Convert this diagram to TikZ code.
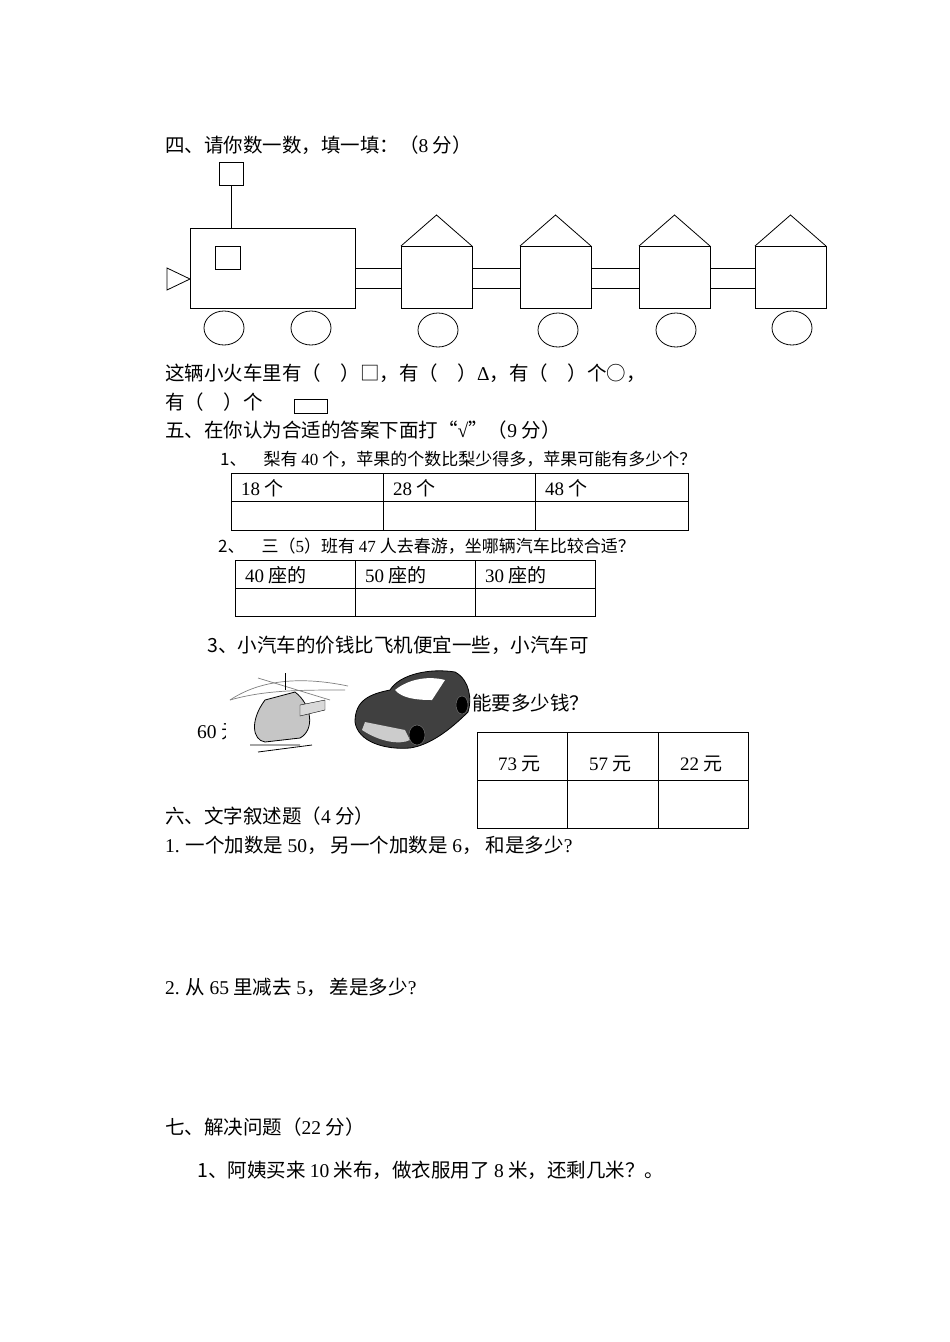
\documentclass[tikz,border=0pt]{standalone}
\usepackage{fontspec}
\setmainfont{Noto Sans CJK SC}
\newfontfamily\latf{Liberation Serif}
\newcommand{\n}[1]{{\latf #1}}
\begin{document}
\begin{tikzpicture}[x=1pt,y=-1pt,
  txt/.style={anchor=base west,inner sep=0pt,font=\fontsize{19.5}{22}\selectfont},
  stxt/.style={anchor=base west,inner sep=0pt,font=\fontsize{17}{20}\selectfont},
  shp/.style={draw,line width=0.8pt},
  cell/.style={anchor=base west,inner sep=0pt,font=\fontsize{19}{22}\selectfont}]
\useasboundingbox (0,0) rectangle (950,1342);
\fill[white] (0,0) rectangle (950,1342);
\node[txt] (t4) at (165,152) {四、请你数一数，填一填：（\n{8} 分）};
% train
\draw[shp] (219,162) rectangle (243,185);
\draw[shp] (231,185) -- (231,228);
\draw[shp] (190,228) rectangle (355,308);
\draw[shp] (215,246) rectangle (240,269);
\draw[shp] (167,268) -- (190,279) -- (167,290) -- cycle;
\foreach \a/\b in {355/401,472/520,591/639,710/755}{
  \draw[shp] (\a,268) -- (\b,268); \draw[shp] (\a,288) -- (\b,288);}
\foreach \l/\r in {401/472,520/591,639/710,755/826}{
  \draw[shp] (\l,246) rectangle (\r,308);
  \draw[shp] (\l,246) -- ({(\l+\r)/2},215) -- (\r,246);}
\foreach \c/\y in {224/328,311/328,438/330,558/330,676/330,792/328}
  \draw[shp] (\c,\y) ellipse (20 and 17);
\node[txt] (q1) at (165,380) {这辆小火车里有（　）□，有（　）\n{Δ}，有（　）个○，};
\node[txt] (q2) at (165,409) {有（　）个};
\draw[shp] (294,399) rectangle (327,413);
\node[txt] (t5) at (165,437) {五、在你认为合适的答案下面打“\n{√}”（\n{9} 分）};
\node[stxt] (p1) at (220,465) {1、　梨有 \n{40} 个，苹果的个数比梨少得多，苹果可能有多少个？};
% table1
\draw[shp] (231,473) rectangle (688,530);
\draw[shp] (231,501) -- (688,501);
\draw[shp] (383,473) -- (383,530); \draw[shp] (535,473) -- (535,530);
\node[cell] at (241,495) {\n{18} 个};
\node[cell] at (393,495) {\n{28} 个};
\node[cell] at (545,495) {\n{48} 个};
\node[stxt] (p2) at (218,552) {2、　三（\n{5}）班有 \n{47} 人去春游，坐哪辆汽车比较合适？};
\draw[shp] (235,560) rectangle (595,616);
\draw[shp] (235,588) -- (595,588);
\draw[shp] (355,560) -- (355,616); \draw[shp] (475,560) -- (475,616);
\node[cell] at (245,582) {\n{40} 座的};
\node[cell] at (365,582) {\n{50} 座的};
\node[cell] at (485,582) {\n{30} 座的};
\node[txt] (p3) at (207,652) {3、小汽车的价钱比飞机便宜一些，小汽车可};
\node[txt] (p3b) at (472,710) {能要多少钱？};
\node[txt] (p60) at (197,738) {\n{60} 元};
% helicopter (sketch)
\fill[white] (226,668) rectangle (350,752);
\draw[gray,line width=0.7pt] (230,700) .. controls (260,680) and (300,676) .. (348,686);
\draw[gray,line width=0.7pt] (230,700) .. controls (265,690) and (300,690) .. (345,690);
\draw[gray,line width=0.7pt] (258,678) -- (330,700);
\draw[line width=1pt] (285,673) -- (285,690);
\filldraw[draw=black,fill=gray!45,line width=0.8pt] (265,700) .. controls (250,720) and (252,740) .. (265,742) -- (300,738) .. controls (315,730) and (312,705) .. (295,692) -- cycle;
\filldraw[draw=black,fill=gray!30] (300,705) -- (325,700) -- (325,710) -- (300,716) -- cycle;
\draw[line width=0.8pt] (250,745) -- (300,745) (258,752) -- (312,745);
% car (sketch)
\filldraw[draw=black,fill=black!75,line width=0.8pt] (355,722) .. controls (355,700) and (370,694) .. (390,690) .. controls (400,674) and (430,668) .. (455,672) .. controls (470,680) and (472,700) .. (468,712) .. controls (450,730) and (430,745) .. (410,748) .. controls (385,750) and (358,742) .. (355,722) -- cycle;
\fill[white] (395,690) .. controls (410,678) and (430,676) .. (445,680) -- (432,700) .. controls (415,700) and (402,698) .. (395,690) -- cycle;
\fill[gray!40] (362,730) .. controls (380,742) and (400,745) .. (410,740) -- (405,730) -- (365,722) -- cycle;
\filldraw[fill=black,draw=gray] (417,735) ellipse (8 and 10);
\filldraw[fill=black,draw=gray] (462,705) ellipse (6 and 9);
% table3
\draw[shp] (477,732) rectangle (748,828);
\draw[shp] (477,780) -- (748,780);
\draw[shp] (567,732) -- (567,828); \draw[shp] (658,732) -- (658,828);
\node[cell] at (498,770) {\n{73} 元};
\node[cell] at (589,770) {\n{57} 元};
\node[cell] at (680,770) {\n{22} 元};
\node[txt] (t6) at (165,823) {六、文字叙述题（\n{4} 分）};
\node[txt] (s1) at (165,852) {\n{1.} 一个加数是 \n{50}，\ 另一个加数是 \n{6}，\ 和是多少\n{?}};
\node[txt] (s2) at (165,994) {\n{2.} 从 \n{65} 里减去 \n{5}，\ 差是多少\n{?}};
\node[txt] (t7) at (165,1134) {七、解决问题（\n{22} 分）};
\node[txt] (r1) at (197,1177) {1、阿姨买来 \n{10} 米布，做衣服用了 \n{8} 米，还剩几米？。};
\end{tikzpicture}
\end{document}
